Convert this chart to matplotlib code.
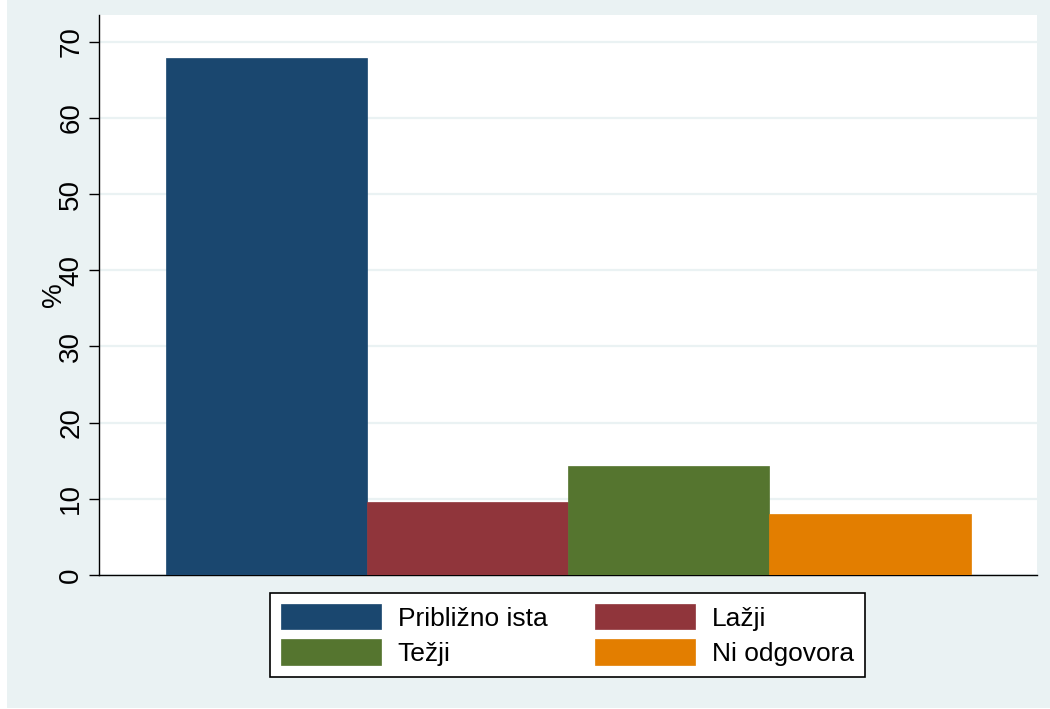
import matplotlib

matplotlib.use("Agg")

import matplotlib.pyplot as plt
from matplotlib.patches import Rectangle


CATEGORIES = ["Približno ista", "Lažji", "Težji", "Ni odgovora"]
VALUES = [67.9, 9.6, 14.3, 8.0]
COLORS = ["#1a476f", "#90353b", "#55752f", "#e37e00"]
Y_TICKS = [0, 10, 20, 30, 40, 50, 60, 70]

BG = "#eaf2f3"
W, H = 1050, 709

plt.rcParams["font.family"] = ["Liberation Sans", "DejaVu Sans"]

fig = plt.figure(figsize=(W / 100, H / 100), dpi=100, facecolor=BG)

# thin white strips on the left and bottom edge
fig.patches.append(
    Rectangle((0, 0), 7 / W, 1, transform=fig.transFigure,
              facecolor="white", edgecolor="none", zorder=-10)
)
fig.patches.append(
    Rectangle((0, 0), 1, 1 / H, transform=fig.transFigure,
              facecolor="white", edgecolor="none", zorder=-10)
)

ax = fig.add_axes([99 / W, 1 - 575 / H, (1036.5 - 99) / W, (575 - 15) / H])
ax.set_facecolor("white")

xs = list(range(len(VALUES)))
bars = ax.bar(xs, VALUES, width=1.0, color=COLORS, edgecolor=COLORS,
              linewidth=0.5, zorder=3)

ax.set_xlim(-0.833, 3.828)
ax.set_ylim(0, 73.5)
ax.set_yticks(Y_TICKS)
ax.set_yticklabels([str(t) for t in Y_TICKS], rotation=90, va="center")
ax.tick_params(axis="y", length=7.2, width=1.0, pad=3.5, labelsize=20,
               colors="black", direction="out")
ax.set_xticks([])

ax.grid(axis="y", color=BG, linewidth=1.6, zorder=1)
ax.set_axisbelow(True)

for side in ["top", "right"]:
    ax.spines[side].set_visible(False)
for side in ["left", "bottom"]:
    ax.spines[side].set_color("black")
    ax.spines[side].set_linewidth(1.0)

ax.set_ylabel("%", fontsize=20, rotation=90)
ax.yaxis.set_label_coords(-0.034, 0.5)

# stata fills legend row by row, matplotlib column by column
order = [0, 2, 1, 3]
leg = fig.legend(
    [bars[i] for i in order],
    [CATEGORIES[i] for i in order],
    loc="upper center",
    bbox_to_anchor=(567.5 / W, 1 - 593 / H),
    ncol=2,
    fontsize=19,
    frameon=True,
    fancybox=False,
    edgecolor="black",
    facecolor="white",
    framealpha=1.0,
    handlelength=3.8,
    handleheight=1.1,
    handletextpad=0.62,
    columnspacing=1.8,
    labelspacing=0.32,
    borderpad=0.42,
    borderaxespad=0,
)
leg.get_frame().set_linewidth(1.2)

fig.savefig("out.png", dpi=100, facecolor=fig.get_facecolor())
